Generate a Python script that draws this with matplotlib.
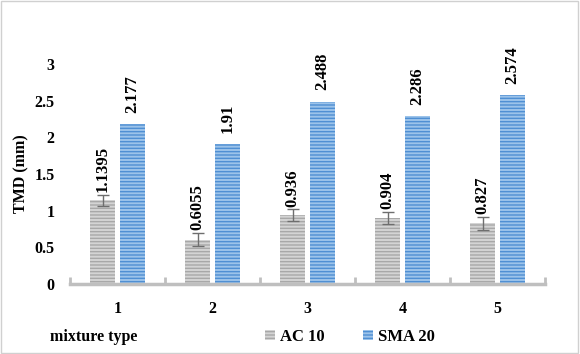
import matplotlib.pyplot as plt
import numpy as np
from matplotlib.patches import Rectangle

plt.rcParams['font.family'] = ['Liberation Serif', 'DejaVu Serif']
plt.rcParams['font.weight'] = 'bold'
plt.rcParams['hatch.linewidth'] = 1.0

# data
mixtures = ['1', '2', '3', '4', '5']
ac10 = [1.1395, 0.6055, 0.936, 0.904, 0.827]
ac10_err = [0.08, 0.09, 0.08, 0.08, 0.09]
sma20 = [2.177, 1.91, 2.488, 2.286, 2.574]
yticks = [0, 0.5, 1, 1.5, 2, 2.5, 3]

fig = plt.figure(figsize=(5.8, 3.54), dpi=100)
ax = fig.add_axes([70 / 580, 70 / 354, 475 / 580, 220 / 354])

x = np.arange(1, len(mixtures) + 1)
w = 25 / 95
off = 15 / 95

ax.bar(x - off, ac10, w, yerr=ac10_err, color='#d4d4d4', edgecolor='#a8a8a8',
       hatch='-----', linewidth=0, capsize=4,
       error_kw=dict(ecolor='#6e6e6e', elinewidth=1, capthick=1), label='AC 10')
ax.bar(x + off, sma20, w, color='#9cc3ea', edgecolor='#4f8fd3',
       hatch='-----', linewidth=0, label='SMA 20')

for xi, v, e in zip(x, ac10, ac10_err):
    ax.annotate(f'{v:g}', (xi - off, v + e), xytext=(0, 2), textcoords='offset points',
                ha='center', va='bottom', rotation=90, fontsize=12, fontweight='bold')
for xi, v in zip(x, sma20):
    ax.annotate(f'{v:g}', (xi + off, v), xytext=(0, 8), textcoords='offset points',
                ha='center', va='bottom', rotation=90, fontsize=12, fontweight='bold')

ax.set_xlim(0.5, len(mixtures) + 0.5)
ax.set_ylim(0, 3)
ax.set_yticks(yticks)
ax.set_yticklabels([f'{t:g}' for t in yticks], fontsize=11.5, fontweight='bold')
ax.set_xticks(x)
ax.set_xticklabels(mixtures, fontsize=11.5, fontweight='bold')
ax.set_xticks(np.arange(0.5, len(mixtures) + 1), minor=True)
ax.tick_params(axis='x', which='major', length=0, pad=12)
ax.tick_params(axis='x', which='minor', direction='in', length=5, width=2, color='#bfbfbf')
ax.tick_params(axis='y', length=0, pad=11)

for s in ['top', 'right', 'left']:
    ax.spines[s].set_visible(False)
ax.spines['bottom'].set_color('#bfbfbf')
ax.spines['bottom'].set_linewidth(2.5)

ax.set_ylabel('TMD (mm)', fontsize=11.5, fontweight='bold')
ax.yaxis.set_label_coords(-0.085, 0.5)

fig.text(50 / 580, 1 - 337 / 354, 'mixture type', fontsize=11.5, fontweight='bold',
         ha='left', va='center')
fig.legend(loc='center left', bbox_to_anchor=(250 / 580, 1 - 337 / 354), ncol=2,
           frameon=False, fontsize=12, handlelength=0.6, handleheight=0.6,
           handletextpad=0.3, columnspacing=2.3)

fig.add_artist(Rectangle((0.002, 0.003), 0.995, 0.994, transform=fig.transFigure,
                         fill=False, edgecolor='#d0d0d0', linewidth=1))

fig.savefig('out.png', dpi=100)
